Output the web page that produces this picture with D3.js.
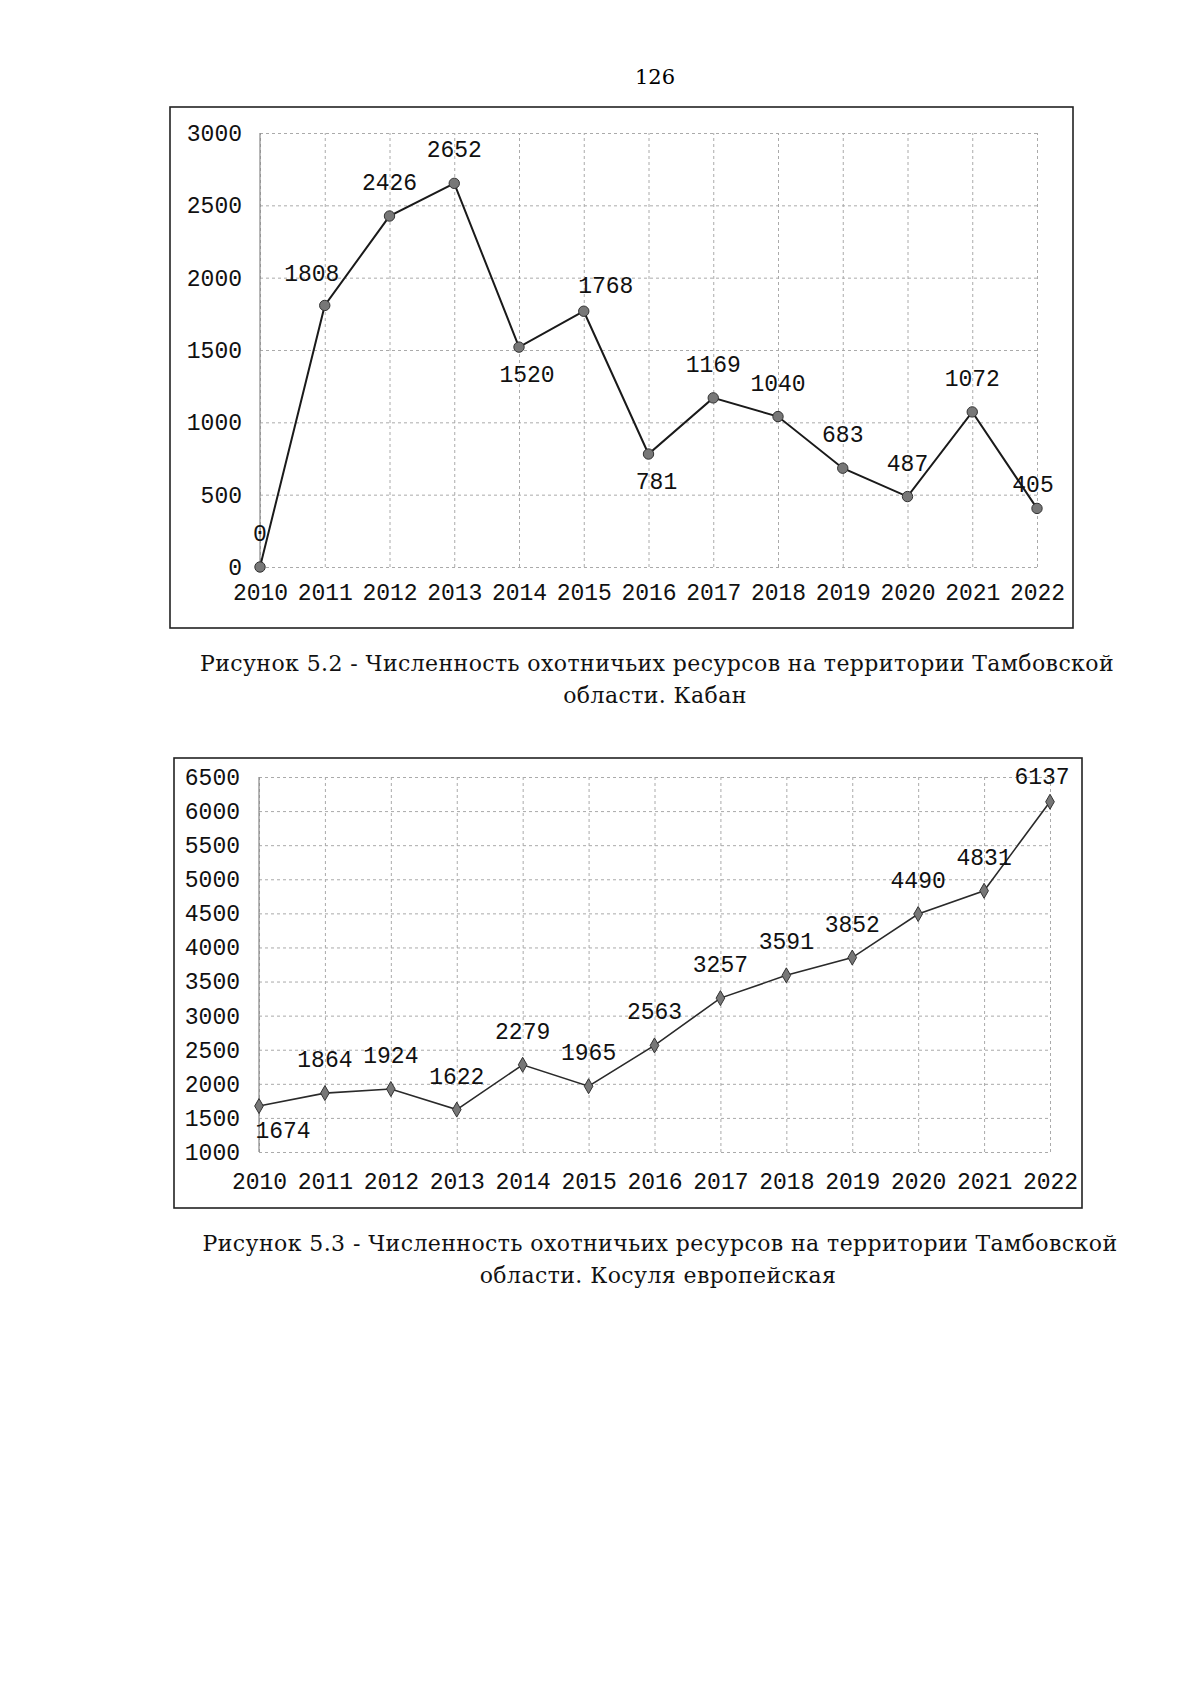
<!DOCTYPE html>
<html>
<head>
<meta charset="utf-8">
<script src="https://cdn.jsdelivr.net/npm/d3@7"></script>
<style>
  body { margin: 0; background: #fff; }
  svg { display: block; }
</style>
</head>
<body>
<svg class="page" width="1200" height="1697"></svg>
<script>
/*  */
/* Data */
/*  */

const years = [2010, 2011, 2012, 2013, 2014, 2015, 2016, 2017, 2018, 2019, 2020, 2021, 2022];

// Рисунок 5.2 - Кабан
const boarValues = [0, 1808, 2426, 2652, 1520, 1768, 781, 1169, 1040, 683, 487, 1072, 405];
const boarTicks = [0, 500, 1000, 1500, 2000, 2500, 3000];
const boarLabelPlace = ['above', 'aboveLeft', 'above', 'above', 'below', 'aboveRight', 'below',
                        'above', 'above', 'above', 'above', 'above', 'near'];

// Рисунок 5.3 - Косуля европейская
const roeValues = [1674, 1864, 1924, 1622, 2279, 1965, 2563, 3257, 3591, 3852, 4490, 4831, 6137];
const roeTicks = [1000, 1500, 2000, 2500, 3000, 3500, 4000, 4500, 5000, 5500, 6000, 6500];
const roeLabelPlace = ['belowRight', 'above', 'above', 'above', 'above', 'above', 'above',
                       'above', 'above', 'above', 'above', 'above', 'nearLeft'];

const captions = [
  ['Рисунок 5.2 - Численность охотничьих ресурсов на территории Тамбовской', 'области. Кабан'],
  ['Рисунок 5.3 - Численность охотничьих ресурсов на территории Тамбовской', 'области. Косуля европейская']
];

/*  */
/* Parameters */
/*  */

const svg = d3.select(".page");
const monoFont = "'Liberation Mono', 'DejaVu Sans Mono', monospace";
const serifFont = "'DejaVu Serif', 'Liberation Serif', serif";
const tickFont = 23;
const capFont = 22;

// label nudges relative to the point, in px
const nudge = {
  above:      [0, -34],
  aboveLeft:  [-13, -32],
  aboveRight: [22, -26],
  below:      [8, 27],
  belowRight: [24, 24],
  near:       [-4, -24],
  nearLeft:   [-8, -26]
};

// page number
svg.append("text")
  .attr("x", 655).attr("y", 84)
  .attr("text-anchor", "middle")
  .style("font-family", serifFont)
  .style("font-size", "21px")
  .text("126");

function drawChart(opt) {
  const g = svg.append("g");

  const x = d3.scalePoint()
    .domain(years)
    .range(opt.xRange);
  const y = d3.scaleLinear()
    .domain(d3.extent(opt.ticks))
    .range(opt.yRange);

  const plotW = opt.xRange[1] - opt.xRange[0];
  const plotH = opt.yRange[0] - opt.yRange[1];

  // outer frame
  g.append("rect")
    .attr("x", opt.frame[0]).attr("y", opt.frame[1])
    .attr("width", opt.frame[2] - opt.frame[0])
    .attr("height", opt.frame[3] - opt.frame[1])
    .attr("fill", "none")
    .attr("stroke", "#222")
    .attr("stroke-width", 1.6);

  // grid
  g.append("g")
    .attr("class", "grid-y")
    .attr("transform", `translate(${opt.xRange[0]},0)`)
    .call(d3.axisLeft(y).tickValues(opt.ticks).tickSize(-plotW).tickFormat(""))
    .call(s => s.select(".domain").remove());
  g.append("g")
    .attr("class", "grid-x")
    .attr("transform", `translate(0,${opt.yRange[0]})`)
    .call(d3.axisBottom(x).tickSize(-plotH).tickFormat(""))
    .call(s => s.select(".domain").remove());
  g.selectAll(".grid-y line, .grid-x line")
    .attr("stroke", "#aaa")
    .attr("stroke-width", 1)
    .attr("stroke-dasharray", "3,3");

  // left axis line
  g.append("line")
    .attr("x1", opt.xRange[0]).attr("x2", opt.xRange[0])
    .attr("y1", opt.yRange[0]).attr("y2", opt.yRange[1])
    .attr("stroke", "#888")
    .attr("stroke-width", 1.2);

  // tick labels
  const yAxis = g.append("g")
    .attr("transform", `translate(${opt.xRange[0]},0)`)
    .call(d3.axisLeft(y).tickValues(opt.ticks).tickSize(0).tickPadding(opt.yPad).tickFormat(d3.format("d")));
  const xAxis = g.append("g")
    .attr("transform", `translate(0,${opt.yearY})`)
    .call(d3.axisBottom(x).tickSize(0).tickPadding(0));
  [yAxis, xAxis].forEach(a => {
    a.select(".domain").remove();
    a.selectAll("text")
      .attr("fill", "#111")
      .style("font-family", monoFont)
      .style("font-size", tickFont + "px");
  });
  xAxis.selectAll("text").attr("y", 0).attr("dy", "0.35em");

  // line
  const pts = opt.values.map((v, i) => ({ year: years[i], v: v, place: opt.place[i] }));
  g.append("path")
    .datum(pts)
    .attr("fill", "none")
    .attr("stroke", opt.lineColor)
    .attr("stroke-width", opt.lineWidth)
    .attr("d", d3.line().x(d => x(d.year)).y(d => y(d.v)));

  // markers
  g.selectAll(".marker")
    .data(pts)
    .join("path")
    .attr("class", "marker")
    .attr("transform", d => `translate(${x(d.year)},${y(d.v)})`)
    .attr("d", d3.symbol().type(opt.symbol).size(opt.symbolSize))
    .attr("fill", "#777")
    .attr("stroke", "#333")
    .attr("stroke-width", 1);

  // value labels
  g.selectAll(".val")
    .data(pts)
    .join("text")
    .attr("class", "val")
    .attr("x", d => x(d.year) + nudge[d.place][0])
    .attr("y", d => y(d.v) + nudge[d.place][1])
    .attr("dy", "0.35em")
    .attr("text-anchor", "middle")
    .attr("fill", "#111")
    .style("font-family", monoFont)
    .style("font-size", tickFont + "px")
    .text(d => d.v);

  // caption: fixed size, letter spacing tuned so line 1 spans the measured width
  const cap = g.append("g")
    .style("font-family", serifFont)
    .style("font-size", capFont + "px")
    .attr("fill", "#111");
  const l1 = cap.append("text")
    .attr("x", opt.capX).attr("y", opt.capY)
    .attr("text-anchor", "middle")
    .text(opt.caption[0]);
  const ls = (opt.capWidth - l1.node().getComputedTextLength()) / opt.caption[0].length;
  cap.style("letter-spacing", ls + "px");
  cap.append("text")
    .attr("x", opt.capX - 2).attr("y", opt.capY + 32)
    .attr("text-anchor", "middle")
    .text(opt.caption[1]);
}

drawChart({
  values: boarValues, ticks: boarTicks, place: boarLabelPlace,
  frame: [170, 107, 1073, 628],
  xRange: [260, 1037], yRange: [567, 133],
  yPad: 18, yearY: 592,
  symbol: d3.symbolCircle, symbolSize: 85,
  lineColor: "#1a1a1a", lineWidth: 2,
  caption: captions[0], capX: 657, capY: 671, capWidth: 914
});

drawChart({
  values: roeValues, ticks: roeTicks, place: roeLabelPlace,
  frame: [174, 758, 1082, 1208],
  xRange: [259, 1050], yRange: [1152, 777],
  yPad: 19, yearY: 1181,
  symbol: d3.symbolDiamond, symbolSize: 65,
  lineColor: "#2a2a2a", lineWidth: 1.6,
  caption: captions[1], capX: 660, capY: 1251, capWidth: 915
});
</script>
</body>
</html>
